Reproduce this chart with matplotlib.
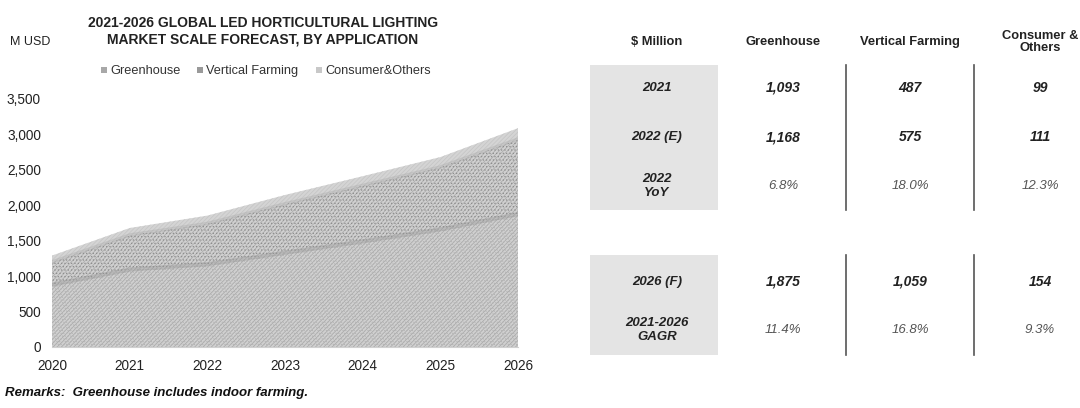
import numpy as np
import matplotlib.pyplot as plt

plt.rcParams['font.family'] = ['Liberation Sans', 'DejaVu Sans']
plt.rcParams['hatch.linewidth'] = 0.5

years = [2020, 2021, 2022, 2023, 2024, 2025, 2026]
greenhouse = [880, 1093, 1168, 1330, 1490, 1660, 1875]
vertical = [320, 487, 575, 690, 790, 880, 1059]
consumer = [90, 99, 111, 125, 130, 140, 154]

col_heads = ['$ Million', 'Greenhouse', 'Vertical Farming', 'Consumer &\nOthers']
rows1 = ['2021', '2022 (E)', '2022\nYoY']
vals1 = [['1,093', '487', '99'],
         ['1,168', '575', '111'],
         ['6.8%', '18.0%', '12.3%']]
rows2 = ['2026 (F)', '2021-2026\nGAGR']
vals2 = [['1,875', '1,059', '154'],
         ['11.4%', '16.8%', '9.3%']]

W, H = 1080, 408
fig = plt.figure(figsize=(W / 100, H / 100), dpi=100)

# area chart
ax = fig.add_axes([52 / W, 1 - 347 / H, 466 / W, 248 / H])
g = np.array(greenhouse)
v = g + np.array(vertical)
c = v + np.array(consumer)
ax.fill_between(years, 0, g, facecolor='#d0d0d0', edgecolor='#a6a6a6', hatch='////////', lw=0)
ax.fill_between(years, 0, g, facecolor='none', edgecolor='#b4b4b4', hatch='......', lw=0)
ax.fill_between(years, g, v, facecolor='#d0d0d0', edgecolor='#a8a8a8', hatch='////////', lw=0)
ax.fill_between(years, g, v, facecolor='none', edgecolor='#8c8c8c', hatch='.....', lw=0)
ax.fill_between(years, v, c, facecolor='#d4d4d4', edgecolor='#c4c4c4', hatch='////////', lw=0)
ax.plot(years, g, color='#999999', lw=3, alpha=0.45)
ax.plot(years, v, color='#aaaaaa', lw=2.5, alpha=0.4)
ax.set_xlim(2020, 2026)
ax.set_ylim(0, 3500)
ax.set_yticks(range(0, 3501, 500))
ax.set_yticklabels([f'{t:,}' for t in range(0, 3501, 500)])
ax.set_xticks(years)
for s in ['top', 'right', 'left']:
    ax.spines[s].set_visible(False)
ax.spines['bottom'].set_color('#d0d0d0')
ax.tick_params(length=0, labelsize=9.8, colors='#222222')
ax.tick_params(axis='x', pad=9)
ax.tick_params(axis='y', pad=8)

# overlay in pixel coordinates for texts and table
ov = fig.add_axes([0, 0, 1, 1])
ov.set_xlim(0, W)
ov.set_ylim(H, 0)
ov.axis('off')

ov.text(263, 31, '2021-2026 GLOBAL LED HORTICULTURAL LIGHTING\nMARKET SCALE FORECAST, BY APPLICATION',
        ha='center', va='center', fontsize=10, fontweight='bold', color='#222222', linespacing=1.25)
ov.text(10, 42, 'M USD', ha='left', va='center', fontsize=9, color='#222222')

leg_items = [('Greenhouse', '#a8a8a8', 101), ('Vertical Farming', '#9a9a9a', 197), ('Consumer&Others', '#c8c8c8', 316)]
for name, col, x0 in leg_items:
    ov.add_patch(plt.Rectangle((x0, 67), 6, 6, facecolor=col, edgecolor='none'))
    ov.text(x0 + 9, 71, name, ha='left', va='center', fontsize=9.2, color='#333333')

ov.text(5, 393, 'Remarks:  Greenhouse includes indoor farming.', ha='left', va='center',
        fontsize=9.5, fontweight='bold', style='italic', color='#111111')

# table
col_x = [657, 783, 910, 1040]
for x, t in zip(col_x, col_heads):
    ov.text(x, 42, t, ha='center', va='center', fontsize=9.3, fontweight='bold', color='#222222', linespacing=1.1)

def block(y0, y1, rows, vals, ys):
    ov.add_patch(plt.Rectangle((590, y0), 128, y1 - y0, facecolor='#e4e4e4', edgecolor='none'))
    for lx in [846, 974]:
        ov.plot([lx, lx], [y0, y1], color='#555555', lw=1.2)
    for y, r, vv in zip(ys, rows, vals):
        ov.text(657, y, r, ha='center', va='center', fontsize=9.5, fontweight='bold', style='italic',
                color='#222222', linespacing=1.25)
        pct = vv[0].endswith('%')
        for x, t in zip(col_x[1:], vv):
            ov.text(x, y, t, ha='center', va='center', fontsize=9.5 if pct else 10, style='italic',
                    fontweight='normal' if pct else 'bold', color='#555555' if pct else '#222222')

block(65, 210, rows1, vals1, [88, 137, 186])
block(255, 355, rows2, vals2, [282, 330])

fig.savefig('out.png', dpi=100)
